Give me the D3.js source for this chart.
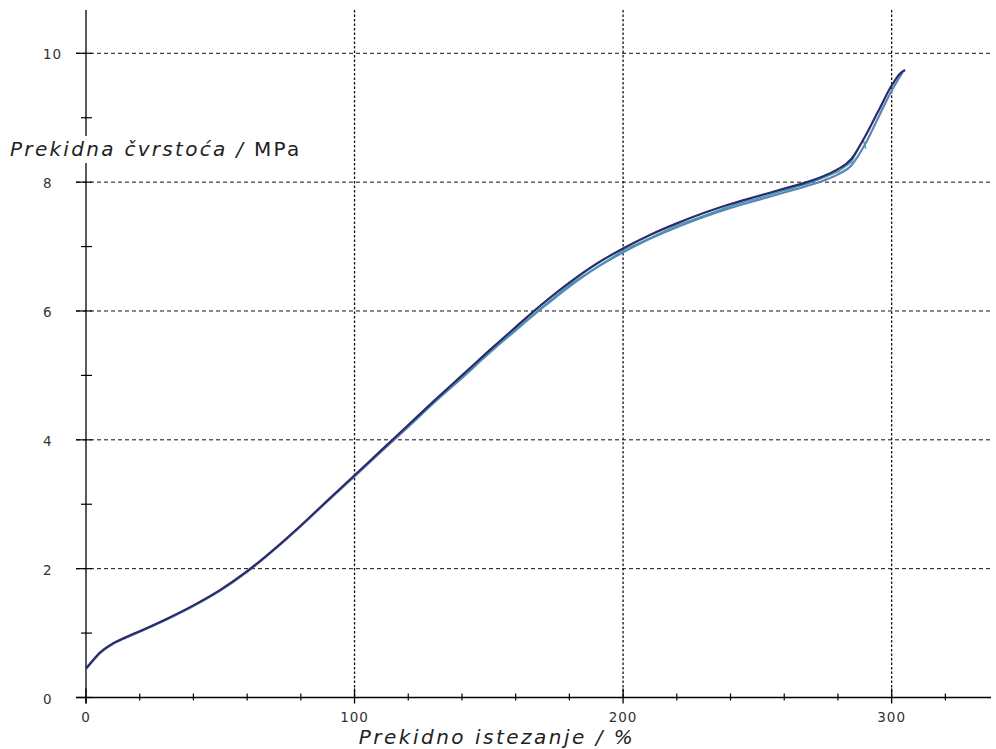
<!DOCTYPE html>
<html>
<head>
<meta charset="utf-8">
<script src="https://cdn.jsdelivr.net/npm/d3@7"></script>
<style>
  body { margin: 0; background: #fff; }
  svg { display: block; }
</style>
</head>
<body>
<svg width="996" height="749"></svg>
<script>
// istezanje (%) i čvrstoća (MPa) očitano sa slike
const strainA = [0, 2, 5, 10, 15, 20, 30, 40, 50, 60, 70, 80, 90, 100, 110, 120, 130, 140, 150, 160, 170, 180, 190, 200, 210, 220, 230, 240, 250, 260, 270, 275, 280, 285, 290, 295, 300, 303, 305];
const stressA = [0.45, 0.55, 0.69, 0.84, 0.94, 1.03, 1.22, 1.43, 1.67, 1.96, 2.30, 2.67, 3.06, 3.45, 3.84, 4.23, 4.62, 5.00, 5.38, 5.75, 6.11, 6.44, 6.73, 6.97, 7.18, 7.36, 7.52, 7.66, 7.78, 7.90, 8.02, 8.10, 8.20, 8.36, 8.70, 9.10, 9.50, 9.68, 9.74];

const strainB = [0, 2, 5, 10, 15, 20, 30, 40, 50, 60, 70, 80, 90, 100, 110, 120, 130, 140, 150, 160, 170, 180, 190, 200, 210, 220, 230, 240, 250, 260, 270, 275, 280, 285, 290, 295, 300, 304];
const stressB = [0.44, 0.54, 0.68, 0.83, 0.93, 1.02, 1.21, 1.42, 1.66, 1.95, 2.29, 2.66, 3.05, 3.43, 3.82, 4.20, 4.59, 4.96, 5.34, 5.70, 6.05, 6.38, 6.67, 6.91, 7.12, 7.30, 7.46, 7.60, 7.72, 7.84, 7.96, 8.03, 8.12, 8.26, 8.58, 9.00, 9.42, 9.70];

const strainC = [120, 140, 160, 180, 200, 220, 240, 260, 270, 280, 285, 289.4, 290.4];
const stressC = [4.21, 4.98, 5.72, 6.41, 6.94, 7.33, 7.63, 7.87, 7.99, 8.16, 8.31, 8.66, 8.52];

const xMajor = [0, 100, 200, 300];
const yMajor = [0, 2, 4, 6, 8, 10];

const svg = d3.select("svg");
svg.append("rect").attr("width", 996).attr("height", 749).attr("fill", "#fff");

const xScale = d3.scaleLinear().domain([0, 337]).range([86, 991]);
const yScale = d3.scaleLinear().domain([0, 10]).range([697.5, 53.3]);
const yTop = 10;

const g = svg.append("g");

// mreža
g.selectAll(".hgrid").data(yMajor.filter(d => d > 0)).join("line")
    .attr("x1", 76).attr("x2", 991)
    .attr("y1", d => yScale(d)).attr("y2", d => yScale(d))
    .attr("stroke", "#111").attr("stroke-width", 1)
    .attr("stroke-dasharray", "4,3");
g.selectAll(".vgrid").data(xMajor.filter(d => d > 0)).join("line")
    .attr("x1", d => xScale(d)).attr("x2", d => xScale(d))
    .attr("y1", yTop).attr("y2", yScale(0))
    .attr("stroke", "#111").attr("stroke-width", 1.3)
    .attr("stroke-dasharray", "2.5,2");

// osi
g.append("line")
    .attr("x1", 76).attr("x2", 991)
    .attr("y1", yScale(0)).attr("y2", yScale(0))
    .attr("stroke", "#000").attr("stroke-width", 1.3);
g.append("line")
    .attr("x1", xScale(0)).attr("x2", xScale(0))
    .attr("y1", yTop).attr("y2", yScale(0) + 6)
    .attr("stroke", "#000").attr("stroke-width", 1.3);

// oznake na osi x
const xMinor = d3.range(20, 337, 20).filter(d => d % 100 !== 0);
g.selectAll(".xminor").data(xMinor).join("line")
    .attr("x1", d => xScale(d)).attr("x2", d => xScale(d))
    .attr("y1", yScale(0) - 4).attr("y2", yScale(0) + 3)
    .attr("stroke", "#000").attr("stroke-width", 1.2);
g.selectAll(".xmajor").data(xMajor).join("line")
    .attr("x1", d => xScale(d)).attr("x2", d => xScale(d))
    .attr("y1", yScale(0) - 9).attr("y2", yScale(0) + 6)
    .attr("stroke", "#000").attr("stroke-width", 1.3);

// oznake na osi y
const yMinor = [1, 3, 5, 7, 9];
g.selectAll(".yminor").data(yMinor).join("line")
    .attr("x1", 81).attr("x2", 92)
    .attr("y1", d => yScale(d)).attr("y2", d => yScale(d))
    .attr("stroke", "#000").attr("stroke-width", 1.2);
g.selectAll(".ymajor").data(yMajor).join("line")
    .attr("x1", 76).attr("x2", 92)
    .attr("y1", d => yScale(d)).attr("y2", d => yScale(d))
    .attr("stroke", "#000").attr("stroke-width", 1.2);

const font = "'DejaVu Sans', Verdana, sans-serif";
g.selectAll(".xlab").data(xMajor).join("text")
    .attr("x", d => xScale(d)).attr("y", 722)
    .attr("text-anchor", "middle")
    .attr("font-family", font).attr("font-size", 13.5)
    .attr("letter-spacing", 1)
    .attr("fill", "#333")
    .text(d => d);
g.selectAll(".ylab").data(yMajor).join("text")
    .attr("x", 43).attr("y", d => yScale(d) + 6)
    .attr("font-family", font).attr("font-size", 13.5)
    .attr("letter-spacing", 1)
    .attr("fill", "#333")
    .text(d => d);

// krivulje
const line = (xs, ys) => d3.line()
    .x((d, i) => xScale(xs[i]))
    .y((d, i) => yScale(ys[i]))
    .curve(d3.curveMonotoneX)(xs);
const lineRaw = (xs, ys) => d3.line()
    .x((d, i) => xScale(xs[i]))
    .y((d, i) => yScale(ys[i]))
    .curve(d3.curveLinear)(xs);

g.append("path").attr("d", line(strainB, stressB))
    .attr("fill", "none").attr("stroke", "#5b86b8").attr("stroke-width", 2.2);
g.append("path").attr("d", lineRaw(strainC, stressC))
    .attr("fill", "none").attr("stroke", "#3a9ab0").attr("stroke-width", 1.4);
g.append("path").attr("d", line(strainA, stressA))
    .attr("fill", "none").attr("stroke", "#2c2a6a").attr("stroke-width", 2.2);

// naslovi osi
const yt = svg.append("text")
    .attr("x", 10).attr("y", 156)
    .attr("font-family", font).attr("font-size", 20)
    .attr("letter-spacing", 2.3)
    .attr("fill", "#222");
yt.append("tspan").attr("font-style", "italic").text("Prekidna čvrstoća / ");
yt.append("tspan").text("MPa");
const bb = yt.node().getBBox();
svg.insert("rect", () => yt.node())
    .attr("x", bb.x - 2).attr("y", 136)
    .attr("width", bb.width + 4).attr("height", 27)
    .attr("fill", "#fff");

svg.append("text")
    .attr("x", 497).attr("y", 744)
    .attr("text-anchor", "middle")
    .attr("font-family", font).attr("font-size", 20)
    .attr("letter-spacing", 2.5)
    .attr("font-style", "italic")
    .attr("fill", "#222")
    .text("Prekidno istezanje / %");
</script>
</body>
</html>
